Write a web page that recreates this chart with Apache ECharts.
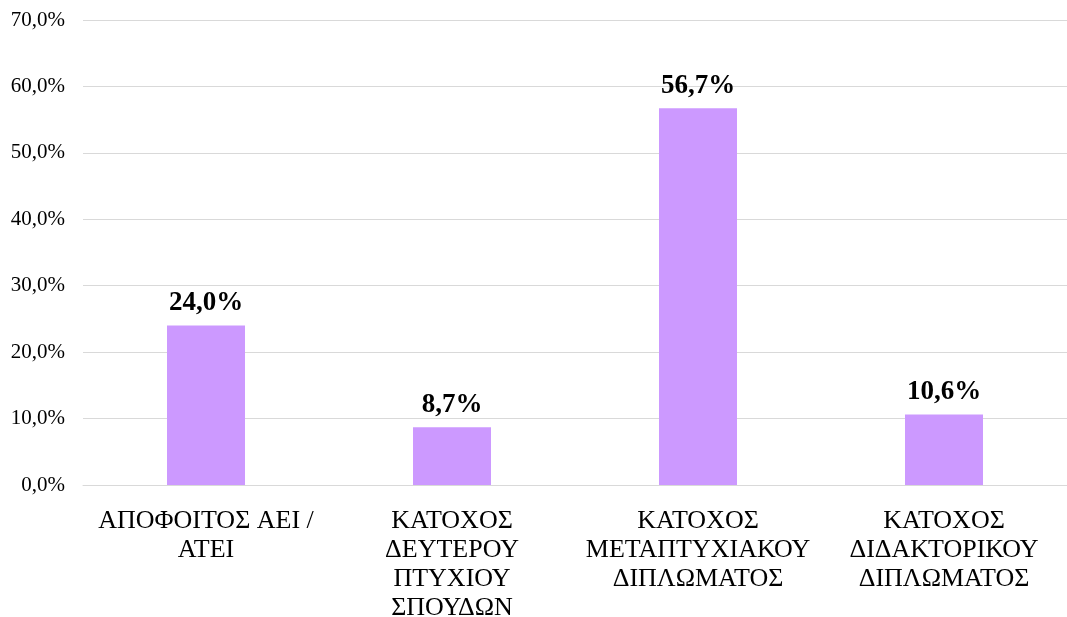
<!DOCTYPE html>
<html>
<head>
<meta charset="utf-8">
<script src="https://cdn.jsdelivr.net/npm/echarts@6/dist/echarts.min.js"></script>
<style>html,body{margin:0;padding:0;background:#fff;}#c{width:1067px;height:617px;}</style>
</head>
<body>
<div id="c"></div>
<script>
const categories = ['ΑΠΟΦΟΙΤΟΣ ΑΕΙ /\nΑΤΕΙ', 'ΚΑΤΟΧΟΣ\nΔΕΥΤΕΡΟΥ\nΠΤΥΧΙΟΥ\nΣΠΟΥΔΩΝ', 'ΚΑΤΟΧΟΣ\nΜΕΤΑΠΤΥΧΙΑΚΟΥ\nΔΙΠΛΩΜΑΤΟΣ', 'ΚΑΤΟΧΟΣ\nΔΙΔΑΚΤΟΡΙΚΟΥ\nΔΙΠΛΩΜΑΤΟΣ'];
const values = [24.0, 8.7, 56.7, 10.6];
const fmt = v => v.toFixed(1).replace('.', ',') + '%';
const chart = echarts.init(document.getElementById('c'));
chart.setOption({
  animation: false,
  grid: { left: 83, right: 0, top: 20, bottom: 132, containLabel: false, outerBoundsMode: 'none' },
  xAxis: {
    type: 'category', data: categories,
    axisLine: { show: true, lineStyle: { color: '#d9d9d9', width: 1 } },
    axisTick: { show: false },
    axisLabel: { interval: 0, color: '#000', fontFamily: 'Liberation Serif', fontSize: 26, lineHeight: 29, margin: 22 }
  },
  yAxis: {
    type: 'value', min: 0, max: 70, interval: 10,
    axisLine: { show: false }, axisTick: { show: false },
    splitLine: { lineStyle: { color: '#d9d9d9', width: 1 } },
    axisLabel: { color: '#000', fontFamily: 'Liberation Serif', fontSize: 21, margin: 18, formatter: v => fmt(v) }
  },
  series: [{
    type: 'bar', data: values, barWidth: 78,
    itemStyle: { color: '#cc99ff' },
    label: { show: true, position: 'top', distance: 9, color: '#000', fontFamily: 'Liberation Serif', fontWeight: 'bold', fontSize: 27, formatter: p => fmt(p.value) }
  }]
});
</script>
</body>
</html>
